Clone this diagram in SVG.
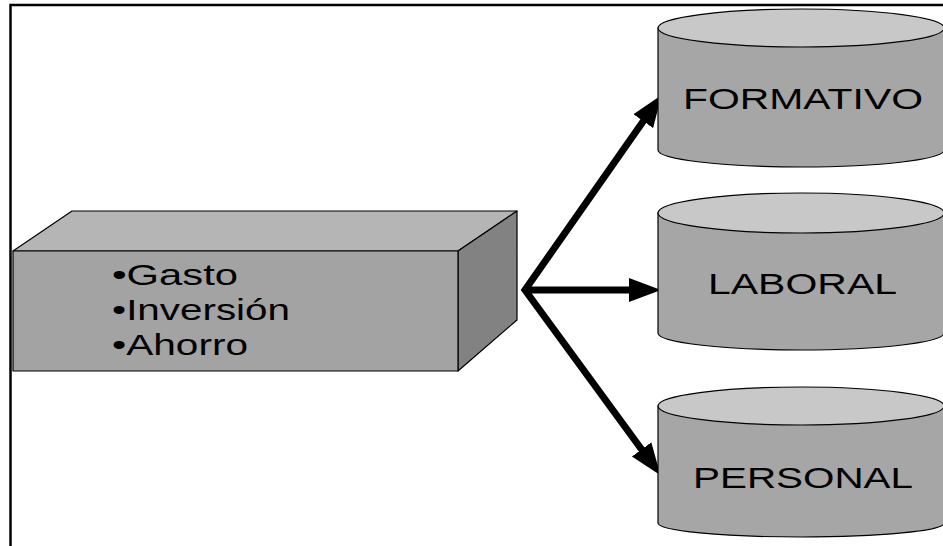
<svg xmlns="http://www.w3.org/2000/svg" width="943" height="546" viewBox="0 0 943 546">
  <style>
    .frame { fill: none; stroke: #000; stroke-width: 2.5; }
    .edge { stroke: #000; stroke-width: 1.2; stroke-linejoin: round; }
    .front { fill: #a3a3a3; }
    .top { fill: #b5b5b5; }
    .side { fill: #828282; }
    .cyl-body { fill: #a6a6a6; stroke: #000; stroke-width: 1.2; }
    .cyl-top { fill: #c8c8c8; stroke: #000; stroke-width: 1.2; }
    .label { font-family: "Liberation Sans", Arial, sans-serif; font-size: 29px; fill: #000; }
    .link { fill: none; stroke: #000; stroke-width: 7; stroke-linejoin: miter; }
  </style>
  <defs>
    <marker id="head" markerUnits="userSpaceOnUse" markerWidth="34" markerHeight="26" viewBox="0 0 34 26" refX="10" refY="13" orient="auto-start-reverse">
      <path d="M0,1 L32,13 L0,25 Z" fill="#000"/>
    </marker>
  </defs>

  <rect width="943" height="546" fill="#fff"/>

  <!-- outer frame: top and left edges only -->
  <path class="frame" d="M10.5,546 V5 H943"/>

  <!-- source block -->
  <g id="block">
    <polygon class="top edge" points="13,251 72,211 517,211 458,251"/>
    <polygon class="side edge" points="458,251 517,211 517,320 458,371"/>
    <polygon class="front edge" points="13,251 458,251 458,371 13,371"/>
    <text class="label" x="112" y="285" textLength="126" lengthAdjust="spacingAndGlyphs">•Gasto</text>
    <text class="label" x="112" y="320" textLength="178" lengthAdjust="spacingAndGlyphs">•Inversión</text>
    <text class="label" x="112" y="355" textLength="136" lengthAdjust="spacingAndGlyphs">•Ahorro</text>
  </g>

  <!-- connectors -->
  <g id="connectors">
    <path class="link" d="M649,113 L525,290 L647.5,457.5" marker-start="url(#head)" marker-end="url(#head)"/>
    <path class="link" d="M525,290 H639" marker-end="url(#head)"/>
  </g>

  <!-- target cylinders -->
  <g id="formativo">
    <path class="cyl-body" d="M658,28 V150 A143,17 0 0 0 944,150 V28 Z"/>
    <ellipse class="cyl-top" cx="801" cy="28" rx="143" ry="19"/>
    <text class="label" x="683" y="109" textLength="240" lengthAdjust="spacingAndGlyphs">FORMATIVO</text>
  </g>

  <g id="laboral">
    <path class="cyl-body" d="M658,213 V333 A143,17 0 0 0 944,333 V213 Z"/>
    <ellipse class="cyl-top" cx="801" cy="213" rx="143" ry="20"/>
    <text class="label" x="708" y="294" textLength="189" lengthAdjust="spacingAndGlyphs">LABORAL</text>
  </g>

  <g id="personal">
    <path class="cyl-body" d="M658,406 V523 A143,14 0 0 0 944,523 V406 Z"/>
    <ellipse class="cyl-top" cx="801" cy="406" rx="143" ry="19"/>
    <text class="label" x="693" y="488" textLength="220" lengthAdjust="spacingAndGlyphs">PERSONAL</text>
  </g>
</svg>
